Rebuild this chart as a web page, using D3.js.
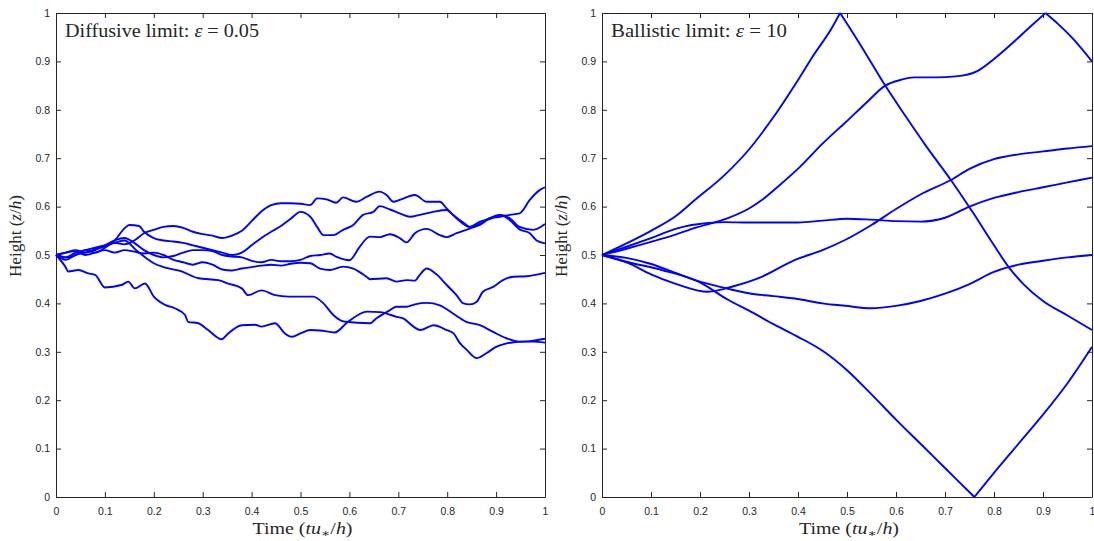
<!DOCTYPE html>
<html>
<head>
<meta charset="utf-8">
<script src="https://cdn.jsdelivr.net/npm/d3@7"></script>
<style>
  body { margin: 0; background: #fff; }
  .tick text { font-family: "Liberation Sans", Arial, sans-serif; font-size: 10.5px; fill: #262626; }
  .tick line, .domain { stroke: #262626; }
  .lbl { font-family: "Liberation Serif", "DejaVu Serif", serif; fill: #262626; }
</style>
</head>
<body>
<svg id="chart" width="1094" height="541"></svg>
<script>
// time (t u*/h) vs height (z/h), six particle paths per panel

const tickValues = [0, 0.1, 0.2, 0.3, 0.4, 0.5, 0.6, 0.7, 0.8, 0.9, 1];
const tickLabels = ["0", "0.1", "0.2", "0.3", "0.4", "0.5", "0.6", "0.7", "0.8", "0.9", "1"];
const panelTitles = ["Diffusive limit: ", "Ballistic limit: "];
const epsilonValues = ["0.05", "10"];

// diffusive limit, eps = 0.05
const diffTop = [[0,0.5],[0.02,0.505],[0.04,0.51],[0.06,0.505],[0.08,0.512],[0.1,0.518],[0.12,0.525],[0.14,0.522],[0.16,0.53],[0.18,0.545],[0.2,0.552],[0.22,0.558],[0.24,0.56],[0.26,0.556],[0.28,0.548],[0.3,0.543],[0.32,0.54],[0.34,0.535],[0.36,0.54],[0.38,0.55],[0.4,0.57],[0.42,0.59],[0.44,0.603],[0.46,0.607],[0.48,0.607],[0.5,0.606],[0.52,0.603],[0.534,0.617],[0.553,0.615],[0.573,0.608],[0.587,0.619],[0.614,0.61],[0.635,0.62],[0.662,0.631],[0.676,0.624],[0.69,0.61],[0.703,0.614],[0.734,0.624],[0.758,0.61],[0.785,0.61],[0.799,0.596],[0.819,0.576],[0.846,0.558],[0.867,0.565],[0.887,0.576],[0.908,0.579],[0.928,0.583],[0.948,0.586],[0.969,0.614],[0.989,0.634],[1,0.64]];
const diffUpper = [[0,0.5],[0.02,0.495],[0.04,0.5],[0.06,0.51],[0.08,0.505],[0.1,0.515],[0.12,0.53],[0.14,0.555],[0.15,0.562],[0.17,0.56],[0.18,0.548],[0.2,0.535],[0.22,0.53],[0.24,0.528],[0.26,0.525],[0.28,0.52],[0.3,0.515],[0.32,0.51],[0.34,0.505],[0.36,0.5],[0.38,0.505],[0.4,0.52],[0.42,0.535],[0.44,0.548],[0.46,0.56],[0.48,0.575],[0.5,0.589],[0.52,0.579],[0.534,0.558],[0.547,0.541],[0.567,0.541],[0.587,0.552],[0.608,0.562],[0.628,0.583],[0.649,0.589],[0.662,0.601],[0.683,0.594],[0.703,0.586],[0.724,0.579],[0.744,0.583],[0.771,0.589],[0.799,0.593],[0.812,0.583],[0.833,0.567],[0.846,0.558],[0.867,0.569],[0.887,0.574],[0.908,0.583],[0.928,0.576],[0.948,0.558],[0.976,0.552],[1,0.564]];
const diffMidA = [[0,0.5],[0.02,0.49],[0.04,0.5],[0.06,0.505],[0.08,0.51],[0.1,0.52],[0.12,0.53],[0.14,0.535],[0.16,0.525],[0.18,0.51],[0.2,0.5],[0.22,0.495],[0.24,0.498],[0.26,0.505],[0.28,0.51],[0.3,0.51],[0.32,0.508],[0.34,0.5],[0.36,0.497],[0.38,0.495],[0.4,0.488],[0.42,0.485],[0.44,0.49],[0.46,0.487],[0.48,0.487],[0.5,0.49],[0.52,0.498],[0.54,0.5],[0.56,0.503],[0.574,0.496],[0.6,0.489],[0.621,0.517],[0.642,0.538],[0.662,0.537],[0.683,0.543],[0.703,0.535],[0.717,0.526],[0.734,0.545],[0.758,0.554],[0.785,0.541],[0.799,0.537],[0.819,0.545],[0.839,0.552],[0.853,0.557],[0.867,0.562],[0.887,0.576],[0.908,0.583],[0.928,0.572],[0.948,0.553],[0.969,0.545],[0.983,0.53],[1,0.524]];
const diffMidB = [[0,0.5],[0.02,0.505],[0.04,0.508],[0.06,0.5],[0.08,0.505],[0.1,0.51],[0.12,0.505],[0.14,0.51],[0.16,0.507],[0.18,0.503],[0.2,0.505],[0.22,0.5],[0.24,0.49],[0.26,0.485],[0.28,0.48],[0.3,0.485],[0.32,0.48],[0.34,0.47],[0.36,0.468],[0.38,0.472],[0.4,0.475],[0.42,0.478],[0.44,0.48],[0.46,0.478],[0.48,0.482],[0.5,0.484],[0.52,0.483],[0.54,0.472],[0.56,0.469],[0.587,0.476],[0.608,0.472],[0.635,0.455],[0.642,0.45],[0.676,0.452],[0.696,0.445],[0.717,0.448],[0.734,0.447],[0.744,0.459],[0.758,0.472],[0.778,0.46],[0.799,0.438],[0.819,0.417],[0.833,0.4],[0.846,0.398],[0.86,0.403],[0.873,0.424],[0.894,0.434],[0.914,0.448],[0.935,0.455],[0.962,0.456],[1,0.463]];
const diffLower = [[0,0.5],[0.02,0.495],[0.04,0.505],[0.06,0.51],[0.08,0.515],[0.1,0.52],[0.12,0.525],[0.14,0.53],[0.164,0.51],[0.2,0.483],[0.22,0.475],[0.257,0.466],[0.291,0.452],[0.332,0.448],[0.352,0.441],[0.38,0.431],[0.393,0.417],[0.42,0.427],[0.448,0.417],[0.475,0.414],[0.5,0.414],[0.526,0.414],[0.547,0.4],[0.567,0.376],[0.591,0.362],[0.642,0.359],[0.655,0.369],[0.683,0.386],[0.696,0.393],[0.717,0.393],[0.734,0.398],[0.758,0.401],[0.785,0.396],[0.812,0.379],[0.839,0.362],[0.867,0.355],[0.894,0.341],[0.921,0.328],[0.948,0.321],[0.975,0.321],[1,0.319]];
const diffBottom = [[0,0.5],[0.019,0.476],[0.025,0.466],[0.046,0.469],[0.066,0.462],[0.08,0.459],[0.1,0.433],[0.134,0.438],[0.148,0.445],[0.161,0.431],[0.182,0.441],[0.2,0.414],[0.223,0.397],[0.243,0.39],[0.264,0.376],[0.27,0.362],[0.291,0.359],[0.311,0.345],[0.339,0.326],[0.352,0.338],[0.38,0.355],[0.407,0.356],[0.42,0.352],[0.448,0.359],[0.468,0.338],[0.482,0.331],[0.5,0.338],[0.52,0.345],[0.54,0.344],[0.57,0.34],[0.595,0.36],[0.636,0.383],[0.663,0.382],[0.676,0.379],[0.697,0.372],[0.71,0.369],[0.731,0.352],[0.745,0.345],[0.772,0.355],[0.799,0.345],[0.813,0.338],[0.826,0.318],[0.84,0.304],[0.86,0.287],[0.88,0.297],[0.9,0.31],[0.92,0.317],[0.94,0.32],[0.97,0.322],[1,0.327]];

// ballistic limit, eps = 10
const ballA = [[0,0.5],[0.05,0.524],[0.1,0.55],[0.15,0.58],[0.19,0.614],[0.25,0.665],[0.3,0.718],[0.35,0.785],[0.404,0.868],[0.43,0.91],[0.469,0.969],[0.486,1],[0.53,0.93],[0.578,0.85],[0.62,0.786],[0.66,0.727],[0.712,0.655],[0.76,0.583],[0.8,0.52],[0.83,0.475],[0.86,0.44],[0.9,0.405],[0.95,0.375],[1,0.345]];
const ballB = [[0,0.5],[0.05,0.513],[0.1,0.527],[0.15,0.542],[0.19,0.556],[0.257,0.576],[0.3,0.596],[0.327,0.614],[0.36,0.642],[0.404,0.682],[0.45,0.73],[0.5,0.777],[0.54,0.815],[0.578,0.85],[0.61,0.862],[0.637,0.867],[0.68,0.867],[0.722,0.869],[0.766,0.88],[0.8,0.905],[0.84,0.94],[0.87,0.968],[0.905,1],[0.93,0.978],[0.961,0.947],[1,0.9]];
const ballC = [[0,0.5],[0.05,0.517],[0.1,0.535],[0.15,0.554],[0.183,0.562],[0.25,0.568],[0.3,0.567],[0.4,0.567],[0.45,0.571],[0.5,0.575],[0.55,0.573],[0.6,0.57],[0.65,0.569],[0.7,0.577],[0.75,0.6],[0.8,0.618],[0.85,0.63],[0.9,0.64],[0.95,0.65],[1,0.66]];
const ballE = [[0,0.5],[0.054,0.483],[0.1,0.46],[0.149,0.441],[0.217,0.424],[0.27,0.436],[0.326,0.455],[0.394,0.49],[0.45,0.51],[0.496,0.531],[0.55,0.562],[0.6,0.595],[0.65,0.625],[0.712,0.655],[0.75,0.678],[0.8,0.698],[0.85,0.708],[0.9,0.714],[0.95,0.72],[1,0.725]];
const ballF = [[0,0.5],[0.05,0.494],[0.095,0.483],[0.15,0.463],[0.19,0.448],[0.25,0.432],[0.299,0.421],[0.35,0.415],[0.394,0.41],[0.45,0.4],[0.496,0.395],[0.55,0.39],[0.6,0.395],[0.65,0.405],[0.7,0.42],[0.75,0.44],[0.8,0.465],[0.85,0.48],[0.9,0.488],[0.95,0.495],[1,0.5]];
const ballG = [[0,0.5],[0.05,0.486],[0.122,0.469],[0.197,0.445],[0.258,0.407],[0.3,0.385],[0.35,0.357],[0.4,0.331],[0.45,0.302],[0.5,0.262],[0.55,0.212],[0.6,0.16],[0.65,0.11],[0.7,0.06],[0.76,0],[0.8,0.05],[0.85,0.11],[0.9,0.17],[0.95,0.235],[1,0.31]];

const diffusivePaths = [diffTop, diffUpper, diffMidA, diffMidB, diffLower, diffBottom];
const ballisticPaths = [ballA, ballB, ballC, ballE, ballF, ballG];

// a particle reflecting off the floor/ceiling makes a sharp corner, so cut the path there
function splitAtWalls(path) {
  const segs = [[path[0]]];
  path.slice(1).forEach((pt, k) => {
    segs[segs.length - 1].push(pt);
    const isLast = k === path.length - 2;
    if (!isLast && (pt[1] === 0 || pt[1] === 1)) segs.push([pt]);
  });
  return segs;
}

const svg = d3.select("#chart");
const plotTop = 13, plotBottom = 497;

const panels = [
  { left: 56, right: 545, paths: diffusivePaths, titleLen: 194 },
  { left: 602, right: 1092, paths: ballisticPaths.flatMap(splitAtWalls), titleLen: 176 }
];

panels.forEach((p, i) => {
  const x = d3.scaleLinear().domain([0, 1]).range([p.left, p.right]);
  const y = d3.scaleLinear().domain([0, 1]).range([plotBottom, plotTop]);
  const g = svg.append("g");
  const fmt = (d, k) => tickLabels[k];

  // MATLAB-style box, ticks pointing inwards
  g.append("g").attr("transform", `translate(0,${plotBottom})`)
    .call(d3.axisBottom(x).tickValues(tickValues).tickFormat(fmt).tickSizeInner(-5).tickSizeOuter(0).tickPadding(11));
  g.append("g").attr("transform", `translate(${p.left},0)`)
    .call(d3.axisLeft(y).tickValues(tickValues).tickFormat(fmt).tickSizeInner(-5).tickSizeOuter(0).tickPadding(6));
  g.append("g").attr("transform", `translate(0,${plotTop})`)
    .call(d3.axisTop(x).tickValues(tickValues).tickFormat("").tickSizeInner(-5).tickSizeOuter(0));
  g.append("g").attr("transform", `translate(${p.right},0)`)
    .call(d3.axisRight(y).tickValues(tickValues).tickFormat("").tickSizeInner(-5).tickSizeOuter(0));

  const line = d3.line().x(d => x(d[0])).y(d => y(d[1])).curve(d3.curveMonotoneX);
  g.append("g").selectAll("path")
    .data(p.paths)
    .join("path")
    .attr("d", line)
    .attr("fill", "none")
    .attr("stroke", "#0000ff")
    .attr("stroke-width", 1.9)
    .attr("stroke-linejoin", "round");

  // title inside the box
  const t = g.append("text").attr("class", "lbl")
    .attr("x", p.left + 9).attr("y", 37)
    .attr("font-size", 18)
    .attr("textLength", p.titleLen).attr("lengthAdjust", "spacingAndGlyphs");
  t.append("tspan").text(panelTitles[i]);
  t.append("tspan").attr("font-style", "italic").text("ε");
  t.append("tspan").text(" = " + epsilonValues[i]);

  // x label
  const xl = g.append("text").attr("class", "lbl")
    .attr("x", (p.left + p.right) / 2 + 2).attr("y", 534)
    .attr("text-anchor", "middle").attr("font-size", 16)
    .attr("textLength", 100).attr("lengthAdjust", "spacingAndGlyphs");
  xl.append("tspan").text("Time (");
  xl.append("tspan").attr("font-style", "italic").text("tu");
  xl.append("tspan").attr("font-size", 11).attr("dy", 3).text("∗");
  xl.append("tspan").attr("dy", -3).text("/");
  xl.append("tspan").attr("font-style", "italic").text("h");
  xl.append("tspan").text(")");

  // y label
  const yl = g.append("text").attr("class", "lbl")
    .attr("transform", `translate(${p.left - 35},236) rotate(-90)`)
    .attr("text-anchor", "middle").attr("font-size", 16)
    .attr("textLength", 82).attr("lengthAdjust", "spacingAndGlyphs");
  yl.append("tspan").text("Height (");
  yl.append("tspan").attr("font-style", "italic").text("z");
  yl.append("tspan").text("/");
  yl.append("tspan").attr("font-style", "italic").text("h");
  yl.append("tspan").text(")");
});
</script>
</body>
</html>
